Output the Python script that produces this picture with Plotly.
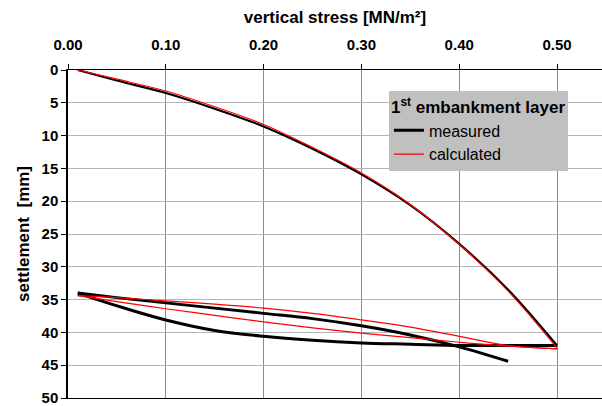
import plotly.graph_objects as go

# Loading curve (measured / calculated)
load_v = [0.01, 0.05, 0.10, 0.15, 0.20, 0.25, 0.30, 0.35, 0.40, 0.45, 0.50]
load_meas = [0.0, 1.6, 3.5, 5.9, 8.6, 12.0, 15.9, 20.6, 26.5, 33.5, 42.0]
load_calc = [0.0, 1.4, 3.2, 5.6, 8.3, 11.8, 15.7, 20.5, 26.6, 33.7, 42.4]

# Unloading (measured)
unl_v = [0.50, 0.45, 0.40, 0.35, 0.30, 0.25, 0.20, 0.15, 0.10, 0.06, 0.03, 0.01]
unl_meas = [42.0, 42.0, 42.0, 41.8, 41.6, 41.2, 40.6, 39.7, 38.1, 36.4, 35.0, 34.0]

# Reloading (measured)
rel_v = [0.01, 0.05, 0.10, 0.15, 0.20, 0.25, 0.30, 0.35, 0.40, 0.45]
rel_meas = [34.0, 34.7, 35.5, 36.3, 37.1, 37.9, 39.0, 40.4, 42.2, 44.4]

# Unloading (calculated)
unl_calc_v = [0.50, 0.45, 0.40, 0.35, 0.30, 0.25, 0.20, 0.15, 0.10, 0.05, 0.01]
unl_calc = [42.5, 42.1, 41.5, 40.8, 40.1, 39.3, 38.4, 37.4, 36.4, 35.3, 34.4]

# Reloading (calculated)
rel_calc_v = [0.01, 0.05, 0.10, 0.15, 0.20, 0.25, 0.30, 0.35, 0.40, 0.45, 0.50]
rel_calc = [34.4, 34.7, 35.2, 35.7, 36.3, 37.1, 38.1, 39.2, 40.6, 42.0, 42.5]

x_ticks = [0.0, 0.1, 0.2, 0.3, 0.4, 0.5]
y_ticks = list(range(0, 51, 5))

FONT = "Liberation Sans, Arial, sans-serif"
BLACK = "#000000"
RED = "#ff0000"

fig = go.Figure()
fig.add_trace(go.Scatter(x=load_v, y=load_meas, mode="lines", line=dict(color=BLACK, width=2.2, shape="spline"),
                         name="measured", legendgroup="m", showlegend=False))
fig.add_trace(go.Scatter(x=unl_v, y=unl_meas, mode="lines", line=dict(color=BLACK, width=3, shape="spline"),
                         name="measured", legendgroup="m", showlegend=False))
fig.add_trace(go.Scatter(x=rel_v, y=rel_meas, mode="lines", line=dict(color=BLACK, width=3, shape="spline"),
                         name="measured", legendgroup="m", showlegend=True))
fig.add_trace(go.Scatter(x=load_v, y=load_calc, mode="lines", line=dict(color=RED, width=1.2, shape="spline"),
                         name="calculated", legendgroup="c", showlegend=True))
fig.add_trace(go.Scatter(x=unl_calc_v, y=unl_calc, mode="lines", line=dict(color=RED, width=1.2, shape="spline"),
                         name="calculated", legendgroup="c", showlegend=False))
fig.add_trace(go.Scatter(x=rel_calc_v, y=rel_calc, mode="lines", line=dict(color=RED, width=1.2, shape="spline"),
                         name="calculated", legendgroup="c", showlegend=False))

fig.update_layout(
    width=602, height=406,
    margin=dict(l=68, r=0, t=70, b=6),
    paper_bgcolor="white", plot_bgcolor="white",
    font=dict(family=FONT, color="black", size=14),
    legend=dict(
        x=0.601, y=0.935, xanchor="left", yanchor="top",
        bgcolor="#c0c0c0", borderwidth=0,
        title=dict(text="1<sup>st</sup> embankment layer", font=dict(size=17, weight="bold")),
        font=dict(size=16),
        tracegroupgap=0, itemwidth=30,
    ),
    xaxis=dict(
        side="top", range=[0, 0.546], tickvals=x_ticks, tickformat=".2f",
        tickfont=dict(size=15, weight="bold"), ticklabelstandoff=8,
        ticks="outside", ticklen=5, tickcolor="black",
        showline=True, linecolor="black", linewidth=1, mirror=True,
        showgrid=True, gridcolor="#8c8c8c", gridwidth=1, zeroline=False,
        title=dict(text="vertical stress [MN/m²]", font=dict(size=17, weight="bold"), standoff=8),
    ),
    yaxis=dict(
        range=[50, 0], tickvals=y_ticks,
        tickfont=dict(size=15, weight="bold"), ticklabeloverflow="allow",
        ticks="outside", ticklen=5, tickcolor="black",
        showline=True, linecolor="black", linewidth=1.5,
        showgrid=True, gridcolor="#b4b4b4", gridwidth=1, zeroline=False,
        title=dict(text="settlement  [mm]", font=dict(size=17, weight="bold"), standoff=8),
    ),
)

fig.write_html("out.html")
